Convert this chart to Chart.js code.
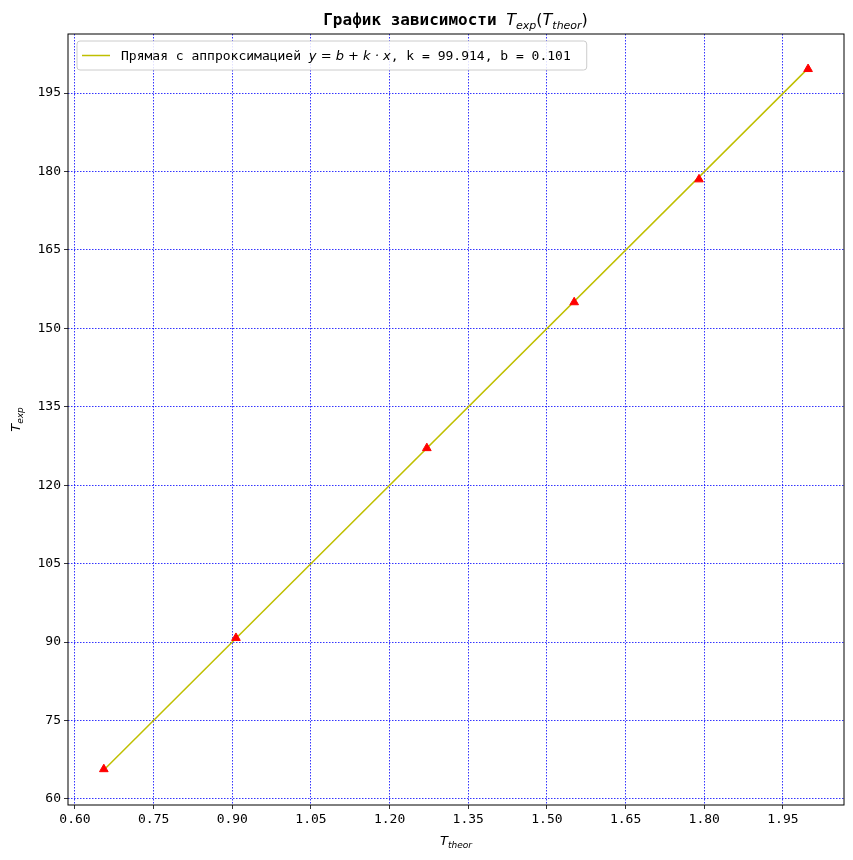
<!DOCTYPE html>
<html><head><meta charset="utf-8">
<script src="https://cdn.jsdelivr.net/npm/chart.js@4"></script>
<style>html,body{margin:0;padding:0;background:#fff}#w{width:853px;height:860px}</style>
</head><body><div id="w"><canvas id="c"></canvas></div>
<script>
const xTheor = [0.655, 0.907, 1.271, 1.552, 1.790, 1.998];
const yExp = [65.7, 90.8, 127.1, 155.0, 178.5, 199.6];
const kFit = 99.914, bFit = 0.101;
const xTicks = [0.60,0.75,0.90,1.05,1.20,1.35,1.50,1.65,1.80,1.95];
const yTicks = [60,75,90,105,120,135,150,165,180,195];
const legendText = ['Прямая с аппроксимацией ', 'y = b + k · x', ', k = 99.914, b = 0.101'];
const fitLine = [xTheor[0], xTheor[xTheor.length-1]].map(x => ({x, y: bFit + kFit*x}));
const MONO = '"DejaVu Sans Mono", monospace';
function drawSub(ctx, x, y, base, sub, size, align){
  ctx.font = 'italic '+size+'px "DejaVu Sans"';
  const w1 = ctx.measureText(base).width;
  ctx.font = 'italic '+Math.round(size*0.7)+'px "DejaVu Sans"';
  const w2 = ctx.measureText(sub).width;
  let sx = align==='center' ? x-(w1+w2)/2 : x;
  ctx.textAlign='left'; ctx.textBaseline='alphabetic';
  ctx.font = 'italic '+size+'px "DejaVu Sans"'; ctx.fillText(base, sx, y);
  ctx.font = 'italic '+Math.round(size*0.7)+'px "DejaVu Sans"'; ctx.fillText(sub, sx+w1, y+size*0.25);
  return w1+w2;
}
const deco = {id:'deco', afterDraw(ch){
  const ctx = ch.ctx, a = ch.chartArea; ctx.save(); ctx.fillStyle='#000';
  const t1='График зависимости ';
  ctx.font='bold 16px '+MONO; const w1=ctx.measureText(t1).width;
  ctx.font='italic 16px "DejaVu Sans"';
  const wT=ctx.measureText('T').width, we=ctx.measureText('exp').width*0.7, wt2=ctx.measureText('theor').width*0.7, wp=ctx.measureText('(').width;
  const total=w1+wT+we+wp+wT+wt2+wp;
  let x=(a.left+a.right)/2-total/2; const ty=25;
  ctx.font='bold 16px '+MONO; ctx.textAlign='left'; ctx.fillText(t1,x,ty); x+=w1;
  x+=drawSub(ctx,x,ty,'T','exp',16);
  ctx.font='16px "DejaVu Sans"'; ctx.fillText('(',x,ty); x+=ctx.measureText('(').width;
  x+=drawSub(ctx,x,ty,'T','theor',16);
  ctx.font='16px "DejaVu Sans"'; ctx.fillText(')',x,ty);
  drawSub(ctx,(a.left+a.right)/2,845,'T','theor',13,'center');
  ctx.save(); ctx.translate(20,(a.top+a.bottom)/2); ctx.rotate(-Math.PI/2);
  drawSub(ctx,0,0,'T','exp',13,'center'); ctx.restore();
  const lx=a.left+9, ly=a.top+7, lh=29;
  ctx.font='13px '+MONO; const ws1=ctx.measureText(legendText[0]).width;
  ctx.font='italic 13px "DejaVu Sans"'; const ws2=ctx.measureText(legendText[1]).width;
  ctx.font='13px '+MONO; const ws3=ctx.measureText(legendText[2]).width;
  const lw=52+ws1+ws2+ws3+8;
  ctx.fillStyle='rgba(255,255,255,0.85)'; ctx.strokeStyle='#ccc'; ctx.lineWidth=1;
  ctx.beginPath(); ctx.roundRect(lx,ly,lw,lh,3); ctx.fill(); ctx.stroke();
  ctx.strokeStyle='#bfbf00'; ctx.lineWidth=1.5; ctx.beginPath(); ctx.moveTo(lx+5,ly+lh/2); ctx.lineTo(lx+33,ly+lh/2); ctx.stroke();
  ctx.fillStyle='#000'; ctx.textBaseline='middle'; let tx=lx+44;
  ctx.font='13px '+MONO; ctx.fillText(legendText[0],tx,ly+lh/2+1); tx+=ws1;
  ctx.font='italic 13px "DejaVu Sans"'; ctx.fillText(legendText[1],tx,ly+lh/2+1); tx+=ws2;
  ctx.font='13px '+MONO; ctx.fillText(legendText[2],tx,ly+lh/2+1);
  ctx.strokeStyle='#000'; ctx.lineWidth=1; ctx.strokeRect(a.left,a.top,a.right-a.left,a.bottom-a.top);
  ctx.restore();
}};
const grid = {color:'#0000ff', lineWidth:0.8, tickColor:'#000', tickLength:4, tickBorderDash:[0]};
const border = {display:false, dash:[1.5,1.5]};
new Chart(document.getElementById('c'), {
  type:'scatter',
  data:{datasets:[
    {type:'line', data:fitLine, borderColor:'#bfbf00', borderWidth:1.5, pointRadius:0, order:2},
    {data:xTheor.map((x,i)=>({x, y:yExp[i]})), pointStyle:'triangle', pointRadius:5, backgroundColor:'#ff0000', borderColor:'#ff0000', order:1}
  ]},
  options:{responsive:true, maintainAspectRatio:false, animation:false,
    layout:{padding:{top:34,right:9,bottom:0,left:0}},
    plugins:{legend:{display:false}, tooltip:{enabled:false}},
    scales:{
      x:{type:'linear', min:0.5867, max:2.0665, offset:false,
        afterBuildTicks:s=>{s.ticks=xTicks.map(v=>({value:v}));},
        afterFit:s=>{s.height=55; s.paddingRight=0; s.paddingLeft=0;},
        grid, border,
        ticks:{color:'#000', font:{family:MONO,size:13}, callback:v=>v.toFixed(2), maxRotation:0, padding:3}},
      y:{min:58.85, max:206.3,
        afterBuildTicks:s=>{s.ticks=yTicks.map(v=>({value:v}));},
        afterFit:s=>{s.width=68;},
        grid, border,
        ticks:{color:'#000', font:{family:MONO,size:13}, padding:3}}
    }},
  plugins:[deco]
});
</script></body></html>
